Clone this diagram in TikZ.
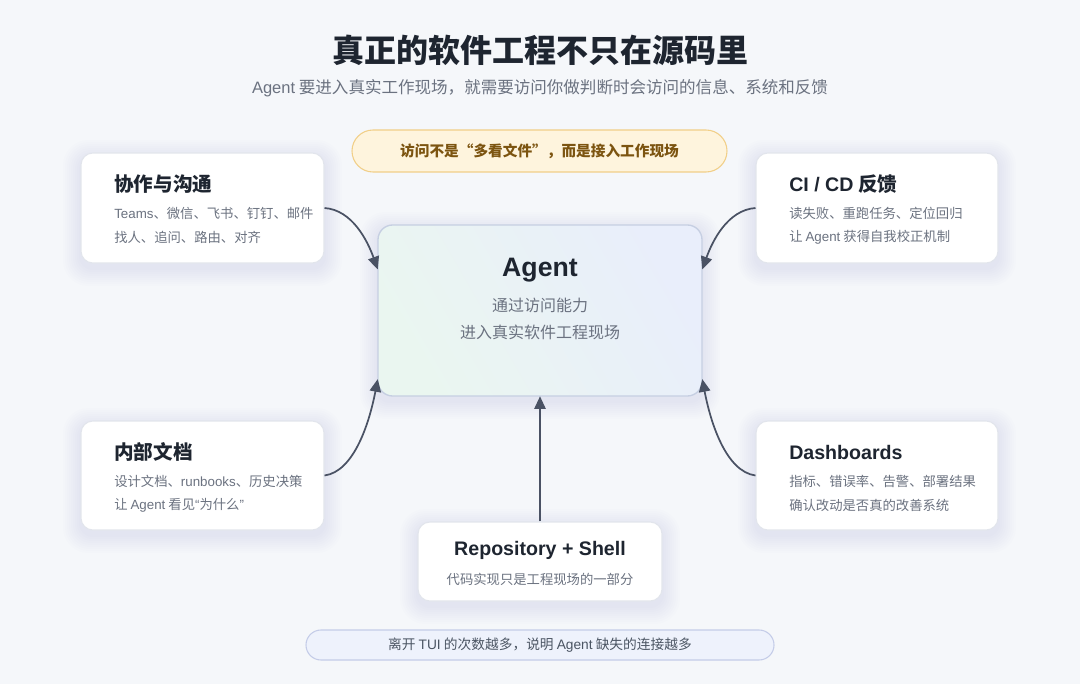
\documentclass[tikz,border=0pt]{standalone}
\usepackage{fontspec}
\setmainfont{Noto Sans CJK SC}
\newfontfamily\en{Liberation Sans}
\usetikzlibrary{arrows.meta,calc}
\definecolor{bg}{HTML}{F5F7FA}
\definecolor{ttl}{HTML}{1E2530}
\definecolor{sub}{HTML}{6B7280}
\definecolor{bodyc}{HTML}{6B7280}
\definecolor{bordc}{HTML}{E2E5EC}
\definecolor{pillf}{HTML}{FEF4DD}
\definecolor{pilld}{HTML}{F1CF88}
\definecolor{pillt}{HTML}{7C5410}
\definecolor{bpillf}{HTML}{EEF2FC}
\definecolor{bpilld}{HTML}{C4CCE8}
\definecolor{bpillt}{HTML}{4B5563}
\definecolor{arr}{HTML}{4A5264}
\definecolor{agb}{HTML}{C6CFE2}
\definecolor{agg}{HTML}{EAF6F0}
\definecolor{agbl}{HTML}{E9EEFB}
\definecolor{shc}{HTML}{5A6480}
\newcommand{\mysoftshadow}[4]{%
  \foreach \k in {1,...,9}{%
    \fill[shc, opacity=0.008, rounded corners=9pt+\k*1.1pt]
      ($(#1,#2)+(-\k*2,-\k*2+5)$) rectangle ($(#3,#4)+(\k*2,\k*2+5)$);
  }}
\tikzset{
  card/.style={draw=bordc, line width=0.8pt, fill=white, rounded corners=9pt},
  cardtitle/.style={anchor=west, font=\fontsize{14.7pt}{16pt}\selectfont\bfseries, text=ttl, inner sep=0pt},
  cardbody/.style={anchor=west, font=\fontsize{10pt}{12pt}\selectfont, text=bodyc, inner sep=0pt},
  conn/.style={draw=arr, line width=1.3pt, -{Triangle[length=9.5pt,width=8.5pt]}},
}
\begin{document}
\begin{tikzpicture}[x=0.75pt,y=-0.75pt]
\fill[bg] (0,0) rectangle (1080,684);
\useasboundingbox (0,0) rectangle (1080,684);

% shadows
\mysoftshadow{81}{153}{324}{263}
\mysoftshadow{756}{153}{998}{263}
\mysoftshadow{81}{421}{324}{530}
\mysoftshadow{756}{421}{998}{530}
\mysoftshadow{418}{522}{662}{601}
\mysoftshadow{378}{225}{702}{396}

% title
\node[font=\fontsize{24pt}{28pt}\selectfont\bfseries, text=ttl] (title) at (540,50) {真正的软件工程不只在源码里};
\node[font=\fontsize{12.4pt}{14pt}\selectfont, text=sub] (subtitle) at (540,88) {{\en Agent} 要进入真实工作现场，就需要访问你做判断时会访问的信息、系统和反馈};

% top pill
\node[draw=pilld, fill=pillf, line width=0.8pt, minimum width=375*0.75pt, minimum height=42*0.75pt, rounded corners=15.75pt, font=\fontsize{11pt}{13pt}\selectfont\bfseries, text=pillt] (toppill) at (539.5,151) {访问不是“多看文件”，而是接入工作现场};

% agent box
\path[draw=agb, line width=1pt, rounded corners=11pt, left color=agg, right color=agbl, shading angle=120]
  (378,225) rectangle (702,396);
\node[minimum width=324*0.75pt, minimum height=171*0.75pt, inner sep=0pt] (agent) at (540,310.5) {};
\node[font=\fontsize{20pt}{22pt}\selectfont\bfseries\en, text=ttl] (agentttl) at (540,270) {Agent};
\node[font=\fontsize{12pt}{14pt}\selectfont, text=bodyc] (agentl1) at (540,305) {通过访问能力};
\node[font=\fontsize{12pt}{14pt}\selectfont, text=bodyc] (agentl2) at (540,332) {进入真实软件工程现场};

% left top card
\node[card, minimum width=243*0.75pt, minimum height=110*0.75pt, inner sep=0pt] (collab) at (202.5,208) {};
\node[cardtitle] (collabt) at (114,184) {协作与沟通};
\node[cardbody] (collab1) at (114,213) {{\en Teams}、微信、飞书、钉钉、邮件};
\node[cardbody] (collab2) at (114,237) {找人、追问、路由、对齐};

% right top card
\node[card, minimum width=242*0.75pt, minimum height=110*0.75pt, inner sep=0pt] (cicd) at (877,208) {};
\node[cardtitle] (cicdt) at (789,184) {{\en CI / CD} 反馈};
\node[cardbody] (cicd1) at (789,213) {读失败、重跑任务、定位回归};
\node[cardbody] (cicd2) at (789,237) {让 {\en Agent} 获得自我校正机制};

% left bottom card
\node[card, minimum width=243*0.75pt, minimum height=109*0.75pt, inner sep=0pt] (docs) at (202.5,475.5) {};
\node[cardtitle] (docst) at (114,452) {内部文档};
\node[cardbody] (docs1) at (114,481) {设计文档、{\en runbooks}、历史决策};
\node[cardbody] (docs2) at (114,505) {让 {\en Agent} 看见{\en “}为什么{\en ”}};

% right bottom card
\node[card, minimum width=242*0.75pt, minimum height=109*0.75pt, inner sep=0pt] (dash) at (877,475.5) {};
\node[cardtitle, font=\fontsize{14.7pt}{16pt}\selectfont\bfseries\en] (dasht) at (789,452) {Dashboards};
\node[cardbody] (dash1) at (789,481) {指标、错误率、告警、部署结果};
\node[cardbody] (dash2) at (789,505) {确认改动是否真的改善系统};

% bottom card
\node[card, minimum width=244*0.75pt, minimum height=79*0.75pt, inner sep=0pt] (repo) at (540,561.5) {};
\node[font=\fontsize{14.7pt}{16pt}\selectfont\bfseries\en, text=ttl, inner sep=0pt] (repot) at (540,550) {Repository + Shell};
\node[font=\fontsize{10pt}{12pt}\selectfont, text=bodyc, inner sep=0pt] (repob) at (540,579) {代码实现只是工程现场的一部分};

% bottom pill
\node[draw=bpilld, fill=bpillf, line width=0.8pt, minimum width=468*0.75pt, minimum height=30*0.75pt, rounded corners=11.25pt, font=\fontsize{10.3pt}{12pt}\selectfont, text=bpillt] (botpill) at (540,645) {离开 {\en TUI} 的次数越多，说明 {\en Agent} 缺失的连接越多};

% connectors
\coordinate (aLT) at ($(agent.north west)!0.26!(agent.south west)$);
\coordinate (aLB) at ($(agent.north west)!0.9!(agent.south west)$);
\coordinate (aRT) at ($(agent.north east)!0.26!(agent.south east)$);
\coordinate (aRB) at ($(agent.north east)!0.9!(agent.south east)$);
\draw[conn] (collab.east) .. controls +(28,2) and +(-10,-28) .. (aLT);
\draw[conn] (cicd.west) .. controls +(-28,2) and +(10,-28) .. (aRT);
\draw[conn] (docs.east) .. controls +(30,-4) and +(-8,42) .. (aLB);
\draw[conn] (dash.west) .. controls +(-30,-4) and +(8,42) .. (aRB);
\draw[conn] (repo.north) -- (agent.south);
\end{tikzpicture}
\end{document}
